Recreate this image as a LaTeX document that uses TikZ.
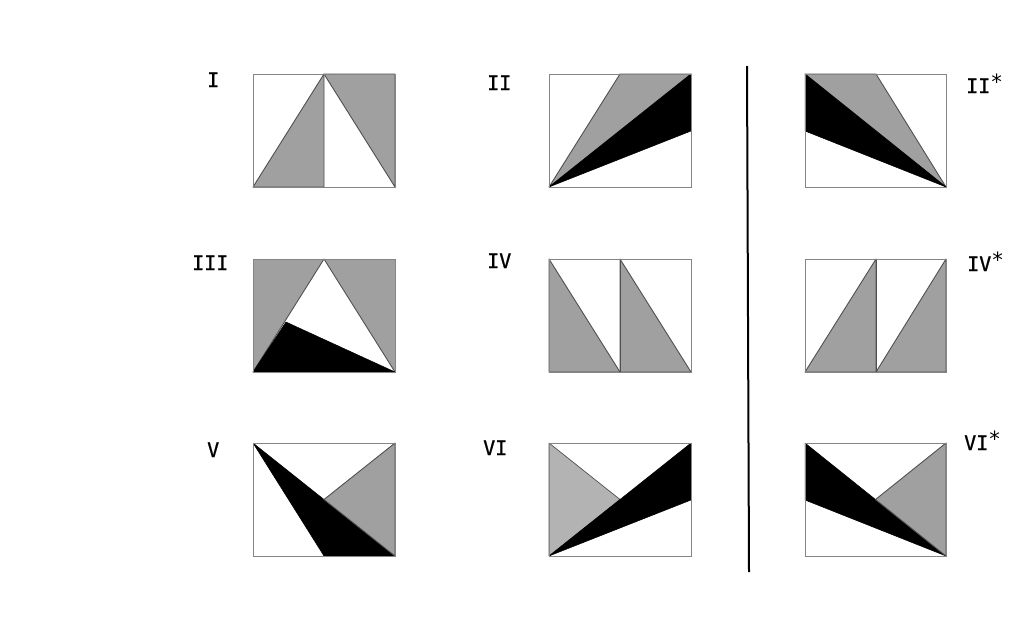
\documentclass[tikz,border=0pt]{standalone}
\usepackage{fontspec}
\newfontfamily\labfont[FakeBold=0.9]{DejaVu Sans Mono}
\newfontfamily\astfont{DejaVu Sans Mono}
\definecolor{midgray}{HTML}{A0A0A0}
\definecolor{lightgray2}{HTML}{B3B3B3}
\definecolor{framegray}{HTML}{858585}
\definecolor{edgegray}{HTML}{505050}
\tikzset{
  frame/.style={draw=framegray, line width=1pt},
  grayfill/.style={fill=midgray, draw=edgegray, line width=0.9pt, line join=round},
  lightfill/.style={fill=lightgray2, draw=edgegray, line width=0.7pt, line join=round},
  blackfill/.style={fill=black, draw=black, line width=0.5pt, line join=round},
  lab/.style={anchor=base west, inner sep=0pt, font=\labfont\fontsize{20}{20}\selectfont},
  divider/.style={draw=black, line width=2pt}
}
\newcommand{\astsup}{\raisebox{4pt}{\astfont\fontsize{21}{21}\selectfont *}}
\begin{document}
\begin{tikzpicture}[x=1pt,y=-1pt]
\useasboundingbox (0,0) rectangle (1017,616);
% ---------- I ----------
\fill[white] (253,74) rectangle (395,187);
\path[grayfill] (253,187)--(324,74)--(324,187)--cycle;
\path[grayfill] (324,74)--(395,74)--(395,187)--cycle;
\draw[frame] (253,74) rectangle (395,187);
% ---------- II ----------
\path[grayfill] (549,187)--(620,74)--(691,74)--cycle;
\path[blackfill] (549,187)--(691,74)--(691,131)--cycle;
\draw[frame] (549,74) rectangle (691,187);
% ---------- II* ----------
\path[grayfill] (805,74)--(876,74)--(946,187)--cycle;
\path[blackfill] (805,74)--(946,187)--(805,131)--cycle;
\draw[frame] (805,74) rectangle (946,187);
% ---------- III ----------
\fill[midgray] (253,259) rectangle (395,372);
\path[fill=white, draw=edgegray, line width=0.9pt, line join=round] (253,372)--(324,259)--(395,372)--cycle;
\path[blackfill] (253,372)--(286,322)--(395,372)--cycle;
\draw[frame] (253,259) rectangle (395,372);
% ---------- IV ----------
\path[grayfill] (549,259)--(620,372)--(549,372)--cycle;
\path[grayfill] (620,259)--(691,372)--(620,372)--cycle;
\draw[edgegray, line width=0.9pt] (620,259)--(620,372);
\draw[frame] (549,259) rectangle (691,372);
% ---------- IV* ----------
\path[grayfill] (805,372)--(876,259)--(876,372)--cycle;
\path[grayfill] (876,372)--(946,259)--(946,372)--cycle;
\draw[edgegray, line width=0.9pt] (876,259)--(876,372);
\draw[frame] (805,259) rectangle (946,372);
% ---------- V ----------
\path[blackfill] (253,443)--(395,556)--(324,556)--cycle;
\path[grayfill] (395,443)--(324,499.5)--(395,556)--cycle;
\draw[frame] (253,443) rectangle (395,556);
% ---------- VI ----------
\path[lightfill] (549,443)--(620,499.5)--(549,556)--cycle;
\path[blackfill] (549,556)--(691,443)--(691,500)--cycle;
\draw[frame] (549,443) rectangle (691,556);
% ---------- VI* ----------
\path[blackfill] (805,443)--(946,556)--(805,500)--cycle;
\path[grayfill] (946,443)--(875.5,499.5)--(946,556)--cycle;
\draw[frame] (805,443) rectangle (946,556);
% ---------- divider ----------
\coordinate (dtop) at (747,66);
\coordinate (dbot) at (749,572);
\draw[divider] (dtop)--(dbot);
% ---------- labels ----------
\node[lab] (lI) at (207,87) {I};
\node[lab] (lII) at (487,90) {II};
\node[lab] (lIII) at (192,270) {III};
\node[lab] (lIV) at (487,268) {IV};
\node[lab] (lV) at (207,457) {V};
\node[lab] (lVI) at (483,455) {VI};
\node[lab] (lIIs) at (966,93) {II\astsup};
\node[lab] (lIVs) at (967,271) {IV\astsup};
\node[lab] (lVIs) at (964,450) {VI\astsup};
\end{tikzpicture}
\end{document}
